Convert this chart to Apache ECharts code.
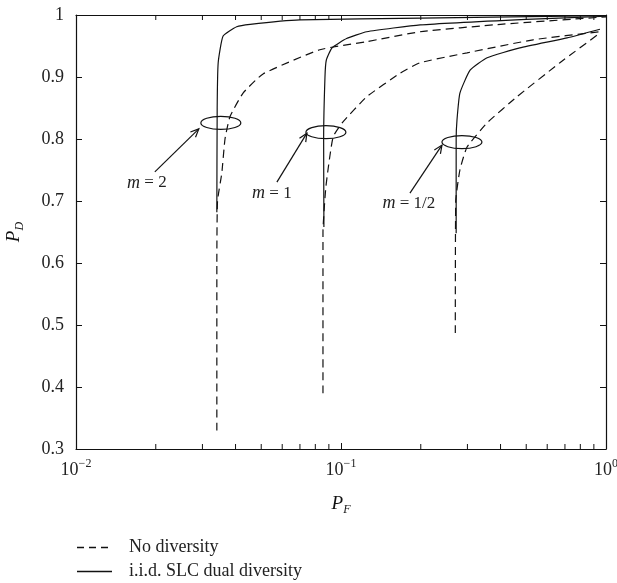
<!DOCTYPE html>
<html>
<head>
<meta charset="utf-8">
<script src="https://cdn.jsdelivr.net/npm/echarts@6/dist/echarts.min.js"></script>
<style>
    html, body { margin: 0; padding: 0; background: #fff; }
    #main { width: 617px; height: 583px; }
</style>
</head>
<body>
<div id="main"></div>
<script>
// 曲线数据 [PF, PD]
var m2Dash = [[0.0340, 0.33], [0.0340, 0.60], [0.0342, 0.70], [0.0355, 0.745], [0.0365, 0.80], [0.0381, 0.836],
    [0.0427, 0.874], [0.0508, 0.905], [0.0832, 0.944], [0.125, 0.957], [0.199, 0.973], [0.4, 0.985], [1.0, 0.997]];
var m2Solid = [[0.0340, 0.682], [0.0341, 0.85], [0.0344, 0.923], [0.0359, 0.966], [0.0404, 0.981], [0.0454, 0.985],
    [0.070, 0.992], [0.2, 0.995], [1.0, 0.999]];
var m1Dash = [[0.0855, 0.39], [0.0855, 0.65], [0.0877, 0.723], [0.0933, 0.803], [0.101, 0.826], [0.125, 0.868],
    [0.167, 0.906], [0.199, 0.923], [0.299, 0.939], [0.531, 0.960], [0.949, 0.973]];
var m1Solid = [[0.0862, 0.658], [0.0860, 0.80], [0.0870, 0.90], [0.0880, 0.927], [0.0925, 0.947], [0.105, 0.962],
    [0.125, 0.973], [0.199, 0.984], [0.5, 0.993], [1.0, 0.998]];
var mHalfDash = [[0.270, 0.487], [0.271, 0.70], [0.281, 0.75], [0.299, 0.787], [0.356, 0.826], [0.461, 0.868],
    [0.670, 0.923], [0.949, 0.971]];
var mHalfSolid = [[0.272, 0.648], [0.272, 0.80], [0.274, 0.831], [0.281, 0.874], [0.307, 0.911], [0.356, 0.931],
    [0.473, 0.947], [0.713, 0.963], [0.949, 0.977]];

// 坐标轴
var yTicks = [0.3, 0.4, 0.5, 0.6, 0.7, 0.8, 0.9, 1];
var minorTickVals = [0.02, 0.03, 0.04, 0.05, 0.06, 0.07, 0.08, 0.09, 0.2, 0.3, 0.4, 0.5, 0.6, 0.7, 0.8, 0.9];

// 椭圆标注 (中心点) 和文字
var annCenters = [[0.0352, 0.826], [0.0877, 0.811], [0.286, 0.795]];
var annLabels = ['2', '1', '1/2'];

var legendNames = ['No diversity', 'i.i.d. SLC dual diversity'];

var FONT = "'Liberation Serif', 'DejaVu Serif', serif";
var INK = '#111';

// 箭头和文字的像素偏移（相对椭圆中心）
var annOffsets = [
    { tip: [-22, 6], tail: [-66, 49], text: [-74, 60] },
    { tip: [-19, 1], tail: [-49, 50], text: [-54, 61] },
    { tip: [-20, 3], tail: [-52, 51], text: [-53, 61] }
];

var chart = echarts.init(document.getElementById('main'));

function curve(name, data, dashed) {
    return {
        name: name,
        type: 'line',
        data: data,
        showSymbol: false,
        symbol: 'none',
        silent: true,
        smooth: 0.15,
        lineStyle: { color: INK, width: 1.2, type: dashed ? [8, 5] : 'solid' },
        z: 3
    };
}

var option = {
    animation: false,
    backgroundColor: '#fff',
    grid: { left: 76, right: 11, top: 15, bottom: 134, outerBoundsMode: 'none' },
    xAxis: [
        {
            type: 'log',
            logBase: 10,
            min: 0.01,
            max: 1,
            name: '{i|P}{s|F}',
            nameLocation: 'middle',
            nameGap: 45,
            nameTextStyle: {
                rich: {
                    i: { fontFamily: FONT, fontSize: 19, fontStyle: 'italic', color: INK, verticalAlign: 'top', lineHeight: 20 },
                    s: { fontFamily: FONT, fontSize: 12, fontStyle: 'italic', color: INK, verticalAlign: 'top', lineHeight: 12, padding: [10, 0, 0, 0] }
                }
            },
            axisLine: { lineStyle: { color: INK, width: 1.2 } },
            axisTick: { inside: true, length: 6, lineStyle: { color: INK } },
            splitLine: { show: false },
            axisLabel: {
                margin: 12,
                formatter: function (v) {
                    var e = Math.round(Math.log10(v));
                    return '{b|10}{p|' + (e < 0 ? '\u2212' + (-e) : e) + '}';
                },
                rich: {
                    b: { fontFamily: FONT, fontSize: 18, color: '#222', verticalAlign: 'bottom', lineHeight: 18 },
                    p: { fontFamily: FONT, fontSize: 12, color: '#222', verticalAlign: 'bottom', lineHeight: 12, padding: [0, 0, 9, 0] }
                }
            }
        },
        {
            type: 'log',
            logBase: 10,
            min: 0.01,
            max: 1,
            position: 'top',
            axisLine: { lineStyle: { color: INK, width: 1.2 } },
            axisTick: { inside: true, length: 6, lineStyle: { color: INK } },
            axisLabel: { show: false },
            splitLine: { show: false }
        }
    ],
    yAxis: [
        {
            type: 'value',
            min: yTicks[0],
            max: yTicks[yTicks.length - 1],
            interval: 0.1,
            name: '{i|P}{s|D}',
            nameLocation: 'middle',
            nameGap: 52,
            nameRotate: 90,
            nameTextStyle: {
                rich: {
                    i: { fontFamily: FONT, fontSize: 19, fontStyle: 'italic', color: INK, verticalAlign: 'top', lineHeight: 20 },
                    s: { fontFamily: FONT, fontSize: 12, fontStyle: 'italic', color: INK, verticalAlign: 'top', lineHeight: 12, padding: [10, 0, 0, 0] }
                }
            },
            axisLine: { show: true, lineStyle: { color: INK, width: 1.2 } },
            axisTick: { show: true, inside: true, length: 6, lineStyle: { color: INK } },
            splitLine: { show: false },
            axisLabel: {
                margin: 12,
                fontFamily: FONT,
                fontSize: 18,
                color: '#222',
                formatter: function (v) { return v === 1 ? '1' : v.toFixed(1); }
            }
        },
        {
            type: 'value',
            position: 'right',
            min: yTicks[0],
            max: yTicks[yTicks.length - 1],
            interval: 0.1,
            axisLine: { show: true, lineStyle: { color: INK, width: 1.2 } },
            axisTick: { show: true, inside: true, length: 6, lineStyle: { color: INK } },
            axisLabel: { show: false },
            splitLine: { show: false }
        }
    ],
    series: [
        curve(legendNames[0], m2Dash, true),
        curve(legendNames[1], m2Solid, false),
        curve(legendNames[0], m1Dash, true),
        curve(legendNames[1], m1Solid, false),
        curve(legendNames[0], mHalfDash, true),
        curve(legendNames[1], mHalfSolid, false),
        // 对数轴的次刻度
        {
            type: 'custom',
            silent: true,
            data: minorTickVals.map(function (v) { return [v, yTicks[0]]; }),
            renderItem: function (params, api) {
                var v = api.value(0);
                var b = api.coord([v, yTicks[0]]);
                var t = api.coord([v, yTicks[yTicks.length - 1]]);
                var ls = { stroke: INK, lineWidth: 1 };
                return {
                    type: 'group',
                    children: [
                        { type: 'line', shape: { x1: b[0], y1: b[1], x2: b[0], y2: b[1] - 5 }, style: ls },
                        { type: 'line', shape: { x1: t[0], y1: t[1], x2: t[0], y2: t[1] + 5 }, style: ls }
                    ]
                };
            },
            z: 4
        },
        // 椭圆 + 箭头 + m 标注
        {
            type: 'custom',
            silent: true,
            clip: false,
            data: annCenters,
            renderItem: function (params, api) {
                var c = api.coord([api.value(0), api.value(1)]);
                var o = annOffsets[params.dataIndex];
                var tip = [c[0] + o.tip[0], c[1] + o.tip[1]];
                var tail = [c[0] + o.tail[0], c[1] + o.tail[1]];
                var dx = tip[0] - tail[0], dy = tip[1] - tail[1];
                var len = Math.sqrt(dx * dx + dy * dy);
                var ux = dx / len, uy = dy / len;
                var hl = 9, ang = 0.42;
                function rot(a) {
                    var ca = Math.cos(a), sa = Math.sin(a);
                    return [tip[0] - hl * (ux * ca - uy * sa), tip[1] - hl * (ux * sa + uy * ca)];
                }
                var ls = { stroke: INK, lineWidth: 1.2, fill: null };
                return {
                    type: 'group',
                    children: [
                        { type: 'ellipse', shape: { cx: c[0], cy: c[1], rx: 20, ry: 6.5 }, style: ls },
                        { type: 'line', shape: { x1: tail[0], y1: tail[1], x2: tip[0], y2: tip[1] }, style: ls },
                        { type: 'polyline', shape: { points: [rot(ang), tip, rot(-ang)] }, style: ls },
                        {
                            type: 'text',
                            x: c[0] + o.text[0],
                            y: c[1] + o.text[1],
                            style: {
                                text: '{i|m} = ' + annLabels[params.dataIndex],
                                align: 'center',
                                verticalAlign: 'middle',
                                fill: '#222',
                                font: '17px ' + FONT,
                                rich: { i: { fontFamily: FONT, fontSize: 18, fontStyle: 'italic', fill: '#222' } }
                            }
                        }
                    ]
                };
            },
            z: 5
        }
    ],
    graphic: [
        { type: 'line', shape: { x1: 77, y1: 547.5, x2: 112, y2: 547.5 }, style: { stroke: INK, lineWidth: 1.3, lineDash: [7, 5] } },
        { type: 'text', x: 129, y: 547, style: { text: legendNames[0], font: '18px ' + FONT, fill: '#222', verticalAlign: 'middle' } },
        { type: 'line', shape: { x1: 77, y1: 571.5, x2: 112, y2: 571.5 }, style: { stroke: INK, lineWidth: 1.3 } },
        { type: 'text', x: 129, y: 571, style: { text: legendNames[1], font: '18px ' + FONT, fill: '#222', verticalAlign: 'middle' } }
    ]
};

chart.setOption(option);
</script>
</body>
</html>
